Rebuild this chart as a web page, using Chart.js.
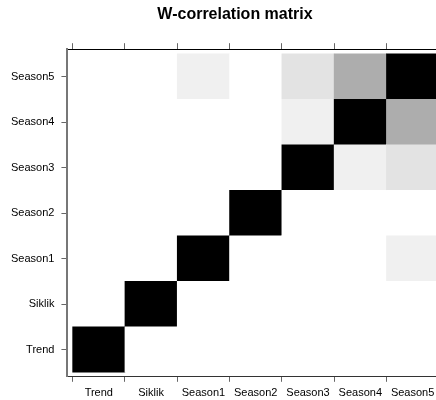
<!DOCTYPE html>
<html>
<head>
<meta charset="utf-8">
<script src="https://cdn.jsdelivr.net/npm/chart.js@4/dist/chart.umd.min.js"></script>
<style>
    html, body { margin: 0; padding: 0; background: #fff; overflow: hidden; }
    canvas { display: block; }
</style>
</head>
<body>
<canvas id="grafico" width="470" height="400"></canvas>
<script>
// componentes (mismo orden en los dos ejes)
const componentes = ["Trend", "Siklik", "Season1", "Season2", "Season3", "Season4", "Season5"];

// w-correlaciones por fila
const wTrend   = [1, 0, 0, 0, 0, 0, 0];
const wSiklik  = [0, 1, 0, 0, 0, 0, 0];
const wSeason1 = [0, 0, 1, 0, 0, 0, 0.06];
const wSeason2 = [0, 0, 0, 1, 0, 0, 0];
const wSeason3 = [0, 0, 0, 0, 1, 0.06, 0.11];
const wSeason4 = [0, 0, 0, 0, 0.06, 1, 0.32];
const wSeason5 = [0, 0, 0.06, 0, 0.11, 0.32, 1];

const filas = [wTrend, wSiklik, wSeason1, wSeason2, wSeason3, wSeason4, wSeason5];

function gris(w) {
    let g = Math.round(255 * (1 - Math.abs(w)));
    return `rgb(${g}, ${g}, ${g})`;
}

// una serie de barras flotantes por fila
let datasets = filas.map((fila, i) => ({
    label: componentes[i],
    data: fila.map((w, j) => ({ x: j, y: [i - 0.5, i + 0.5] })),
    backgroundColor: fila.map(w => gris(w)),
    borderWidth: 0,
    grouped: false,
    barPercentage: 1,
    categoryPercentage: 1
}));

function ticksFijos(scale) {
    scale.ticks = componentes.map((_, i) => ({ value: i }));
}

const fuente = { family: "'Liberation Sans', Arial, sans-serif", size: 11 };

new Chart(document.getElementById("grafico"), {
    type: "bar",
    data: { datasets: datasets },
    options: {
        responsive: false,
        animation: false,
        layout: { padding: { left: 4, right: 4, top: 0, bottom: -5 } },
        plugins: {
            legend: { display: false },
            tooltip: { enabled: false },
            title: {
                display: true,
                text: "W-correlation matrix",
                color: "#000",
                font: { family: "'Liberation Sans', Arial, sans-serif", size: 16, weight: "bold" },
                padding: { top: 5, bottom: 19 }
            }
        },
        scales: {
            x: {
                type: "linear",
                position: "bottom",
                offset: false,
                min: -0.6,
                max: 6.6,
                afterBuildTicks: ticksFijos,
                ticks: {
                    color: "#000",
                    font: fuente,
                    padding: 5,
                    maxRotation: 0,
                    callback: v => componentes[v]
                },
                grid: { drawOnChartArea: false, tickLength: 5, color: "#666" },
                border: { color: "#333", width: 1 }
            },
            xTop: {
                type: "linear",
                position: "top",
                offset: false,
                min: -0.6,
                max: 6.6,
                afterBuildTicks: ticksFijos,
                ticks: { display: false },
                grid: { drawOnChartArea: false, tickLength: 6, color: "#666" },
                border: { color: "#000", width: 1 }
            },
            y: {
                type: "linear",
                min: -0.6,
                max: 6.6,
                afterBuildTicks: ticksFijos,
                ticks: {
                    color: "#000",
                    font: fuente,
                    padding: 7,
                    callback: v => componentes[v]
                },
                grid: { drawOnChartArea: false, tickLength: 6, color: "#666" },
                border: { color: "#777", width: 2 }
            },
            yRight: {
                type: "linear",
                position: "right",
                min: -0.6,
                max: 6.6,
                afterBuildTicks: ticksFijos,
                afterFit: scale => { scale.width = 22; },
                ticks: { display: false },
                grid: { drawOnChartArea: false, tickLength: 6, color: "#666" },
                border: { color: "#000", width: 1 }
            }
        }
    }
});
</script>
</body>
</html>
